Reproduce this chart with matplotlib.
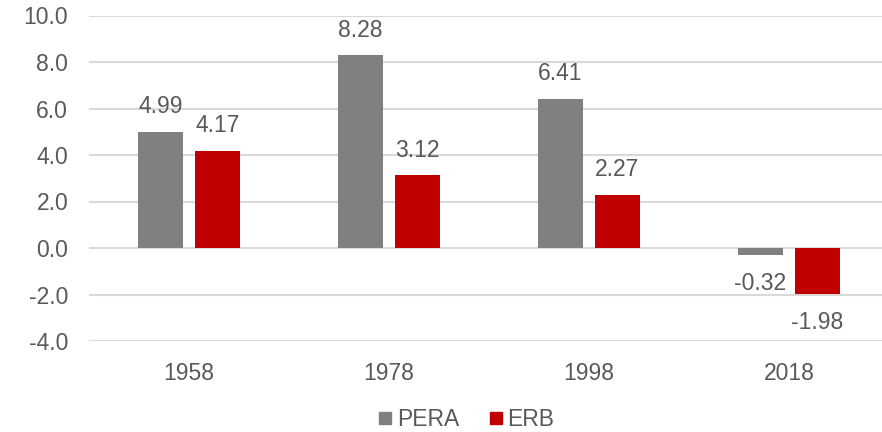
import matplotlib

matplotlib.use("Agg")
import matplotlib.pyplot as plt
from matplotlib.lines import Line2D

years = ["1958", "1978", "1998", "2018"]
pera = [4.99, 8.28, 6.41, -0.32]
erb = [4.17, 3.12, 2.27, -1.98]
series_names = ["PERA", "ERB"]

GREY = "#808080"
RED = "#C00000"
TEXT = "#595959"
GRID = "#D9D9D9"
FS = 16.5

plt.rcParams["font.family"] = ["Liberation Sans", "DejaVu Sans"]
plt.rcParams["font.size"] = FS

fig = plt.figure(figsize=(8.82, 4.32), dpi=100)
ax = fig.add_axes([89 / 882, 91 / 432, 1 - 89 / 882, (341 - 15.5) / 432])

x = list(range(len(years)))
width = 0.225
offset = 0.1425

for values, color, sign in ((pera, GREY, -1), (erb, RED, 1)):
    xs = [i + sign * offset for i in x]
    ax.bar(xs, values, width=width, color=color, zorder=3)
    for xi, v in zip(xs, values):
        if v >= 0:
            ax.annotate(f"{v:.2f}", (xi, v), xytext=(0, 10), textcoords="offset points",
                        ha="center", va="bottom", color=TEXT, fontsize=FS)
        else:
            ax.annotate(f"{v:.2f}", (xi, v), xytext=(0, -12), textcoords="offset points",
                        ha="center", va="top", color=TEXT, fontsize=FS)

ax.set_ylim(-4, 10)
ax.set_yticks(range(-4, 11, 2))
ax.set_yticklabels([f"{t:.1f}" for t in range(-4, 11, 2)])
ax.set_xlim(-0.5, 3.465)
ax.set_xticks(x)
ax.set_xticklabels(years)

ax.grid(axis="y", color=GRID, linewidth=1.5, zorder=0)
for side in ax.spines.values():
    side.set_visible(False)
ax.tick_params(axis="both", length=0, colors=TEXT, labelsize=FS)
ax.tick_params(axis="y", pad=15)
ax.tick_params(axis="x", pad=15)

handles = [
    Line2D([], [], marker="s", linestyle="none", markersize=8.5, color=GREY),
    Line2D([], [], marker="s", linestyle="none", markersize=8.5, color=RED),
]
leg = fig.legend(handles, series_names, loc="center", bbox_to_anchor=(465 / 882, 1 - 420 / 432),
                 ncol=2, frameon=False, handletextpad=0.1, columnspacing=1.2, handlelength=0.8,
                 fontsize=FS)
for t in leg.get_texts():
    t.set_color(TEXT)

fig.savefig("out.png", dpi=100)
